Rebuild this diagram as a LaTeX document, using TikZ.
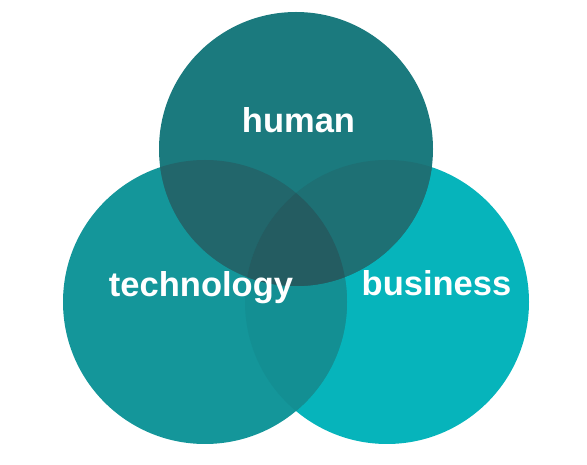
\documentclass[tikz,border=0pt]{standalone}
\usepackage{fontspec}
\setmainfont{Liberation Sans}
\begin{document}
\begin{tikzpicture}[x=1pt,y=1pt,
  lbl/.style={text=white,font=\fontsize{34.5}{40}\selectfont\bfseries,anchor=base,inner sep=0pt}]
\definecolor{cbus}{HTML}{06B4BB}
\definecolor{ctech}{HTML}{14969A}
\definecolor{ctb}{HTML}{138F93}
\definecolor{chum}{HTML}{1B7A7E}
\definecolor{cht}{HTML}{22666B}
\definecolor{chb}{HTML}{1E7074}
\definecolor{call}{HTML}{245C61}
\useasboundingbox (0,0) rectangle (587,464);
\def\bus{(387,162) circle (142)}
\def\tech{(205,162) circle (142)}
\def\hum{(296,315) circle (137)}
\fill[cbus] \bus;
\fill[ctech] \tech;
\begin{scope}\clip \tech; \fill[ctb] \bus; \end{scope}
\fill[chum] \hum;
\begin{scope}\clip \hum; \fill[cht] \tech; \end{scope}
\begin{scope}\clip \hum; \fill[chb] \bus; \end{scope}
\begin{scope}\clip \hum; \clip \tech; \fill[call] \bus; \end{scope}
\node[lbl] (human) at (298.5,331) {human};
\node[lbl] (technology) at (201,167) {technology};
\node[lbl] (business) at (436.5,168) {business};
\end{tikzpicture}
\end{document}
